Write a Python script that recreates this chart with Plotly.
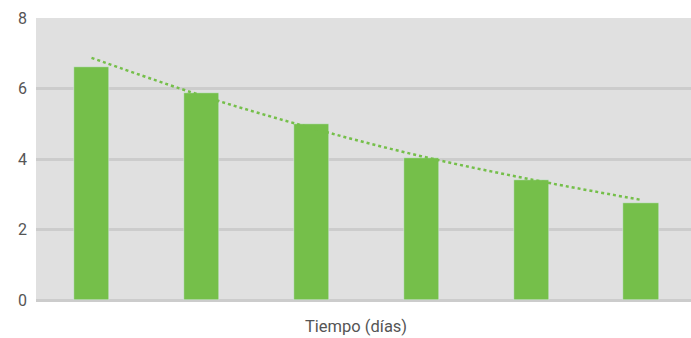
import plotly.graph_objects as go

days = [1, 2, 3, 4, 5, 6]
values = [6.61, 5.87, 4.99, 4.03, 3.40, 2.75]
trend = [6.87, 5.80, 4.88, 4.08, 3.42, 2.84]
y_ticks = [0, 2, 4, 6, 8]

green = "#75bf4a"

fig = go.Figure()
fig.add_trace(go.Bar(x=days, y=values, marker_color=green, width=0.32, showlegend=False))
fig.add_trace(go.Scatter(x=days, y=trend, mode="lines", line=dict(color=green, width=2.5, dash="dot", shape="spline"), showlegend=False))

fig.update_layout(
    width=691, height=338,
    margin=dict(l=36, r=0, t=18, b=38),
    paper_bgcolor="white",
    plot_bgcolor="#e0e0e0",
    font=dict(family="Roboto", color="#555555"),
    xaxis=dict(range=[0.495, 6.455], showticklabels=False, showgrid=False, zeroline=False),
    yaxis=dict(range=[0, 8], tickvals=y_ticks, showgrid=True, gridcolor="#cccccc", gridwidth=2.5,
               zeroline=True, zerolinecolor="#cccccc", zerolinewidth=2.5,
               tickfont=dict(size=16, color="#555555"), ticklabelstandoff=8),
    bargap=0,
    annotations=[dict(text="Tiempo (días)", xref="paper", yref="paper", x=0.4885, y=0,
                      yshift=-26, xanchor="center", yanchor="middle", showarrow=False,
                      font=dict(size=16.5, color="#555555"))],
)
fig.write_html("out.html")
